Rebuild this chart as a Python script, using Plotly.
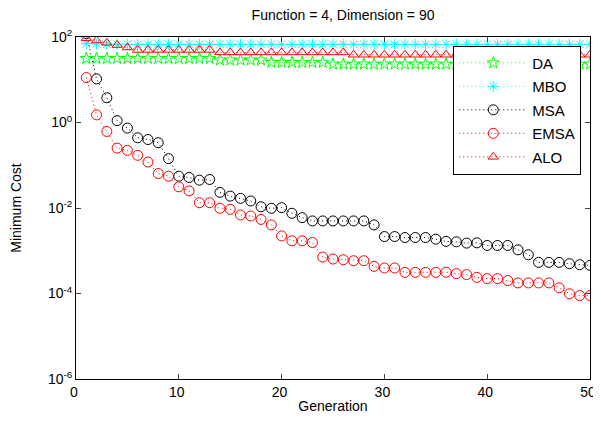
import plotly.graph_objects as go

generations = list(range(1, 51))

da = [31.6]*13 + [29.0]*5 + [25.5]*6 + [23.2]*26
mbo = [70, 69, 68] + [67.5]*47
msa = [120, 10.5, 3.8, 1.11, 0.74, 0.44, 0.40, 0.337, 0.143, 0.0555,
       0.0518, 0.0448, 0.0465, 0.0232, 0.0190, 0.0168, 0.0146, 0.0107, 0.00984, 0.0102,
       0.00753, 0.00595, 0.00499, 0.00499, 0.00499, 0.00499, 0.00499, 0.00499, 0.00403, 0.00215,
       0.00215, 0.00204, 0.00204, 0.00204, 0.00187, 0.00166, 0.00162, 0.00151, 0.00153, 0.00133,
       0.00133, 0.00133, 0.00105, 0.000807, 0.000535, 0.000535, 0.000535, 0.000499, 0.000472, 0.000455]
emsa = [11.3, 1.51, 0.618, 0.252, 0.223, 0.171, 0.119, 0.0641, 0.0555, 0.0313,
        0.0252, 0.0133, 0.0133, 0.00985, 0.00933, 0.00688, 0.00651, 0.00541, 0.00403, 0.00223,
        0.00171, 0.00171, 0.00156, 0.000713, 0.000641, 0.000617, 0.000585, 0.000585, 0.000431, 0.000396,
        0.000396, 0.000313, 0.000313, 0.000313, 0.000313, 0.000315, 0.000292, 0.000277, 0.000239, 0.000223,
        0.000223, 0.000201, 0.000177, 0.000177, 0.000177, 0.000177, 0.000136, 0.0000985, 0.0000898, 0.0000898]
alo = [94, 83, 73, 65, 57] + [50]*8 + [43.7]*13 + [38.5]*24

y_tickvals = [1e-6, 1e-4, 1e-2, 1e0, 1e2]
y_ticktext = ["10<sup>-6</sup>", "10<sup>-4</sup>", "10<sup>-2</sup>", "10<sup>0</sup>", "10<sup>2</sup>"]
x_tickvals = [0, 10, 20, 30, 40, 50]

series = [
    ("DA", da, "rgb(0,255,0)", "star-open"),
    ("MBO", mbo, "rgb(0,255,255)", "asterisk-open"),
    ("MSA", msa, "black", "circle-open"),
    ("EMSA", emsa, "red", "circle-open"),
    ("ALO", alo, "red", "triangle-up-open"),
]

fig = go.Figure()
for name, vals, color, sym in series:
    fig.add_trace(go.Scatter(
        x=generations, y=vals, name=name, mode="lines+markers",
        legendgroup=name,
        line=dict(color=color, width=1, dash="1px,3px"),
        marker=dict(symbol=sym, size=10 if "circle" in sym else 9,
                    color=color, line=dict(color=color, width=1)),
    ))

# the page places the figure 8px in from the top-left corner, so the
# figure is 8px smaller and its margins are reduced by the same amount
W, H = 593, 417
font = "Liberation Sans, Arial, sans-serif"
fig.update_layout(
    width=W, height=H,
    margin=dict(l=68, r=11, t=29, b=46),
    paper_bgcolor="white", plot_bgcolor="white",
    font=dict(family=font, size=13, color="black"),
    title=dict(text="Function = 4, Dimension = 90", x=0.565, xanchor="center",
               y=1 - 7.5/H, yanchor="middle", yref="container",
               font=dict(size=14, color="black")),
    showlegend=True,
    legend=dict(x=0.734, y=0.975, xanchor="left", yanchor="top",
                bgcolor="white", bordercolor="black", borderwidth=1,
                font=dict(size=15, color="black"), tracegroupgap=1,
                itemwidth=68, entrywidth=129, entrywidthmode="pixels"),
)
fig.update_xaxes(range=[0, 50.001], tickvals=x_tickvals, ticks="inside", ticklen=5,
                 showline=True, linecolor="black", linewidth=1, mirror="ticks",
                 showgrid=False, zeroline=False, tickfont=dict(size=14),
                 automargin=False, ticklabeloverflow="allow", ticklabelshift=-2,
                 title=dict(text="Generation", font=dict(size=14), standoff=2))
fig.update_yaxes(type="log", range=[-6, 2.001], tickvals=y_tickvals, ticktext=y_ticktext,
                 ticks="inside", ticklen=5,
                 showline=True, linecolor="black", linewidth=1, mirror="ticks",
                 showgrid=False, zeroline=False, tickfont=dict(size=14),
                 automargin=False,
                 title=dict(text="Minimum Cost", font=dict(size=14), standoff=24))

fig.write_html("out.html")
